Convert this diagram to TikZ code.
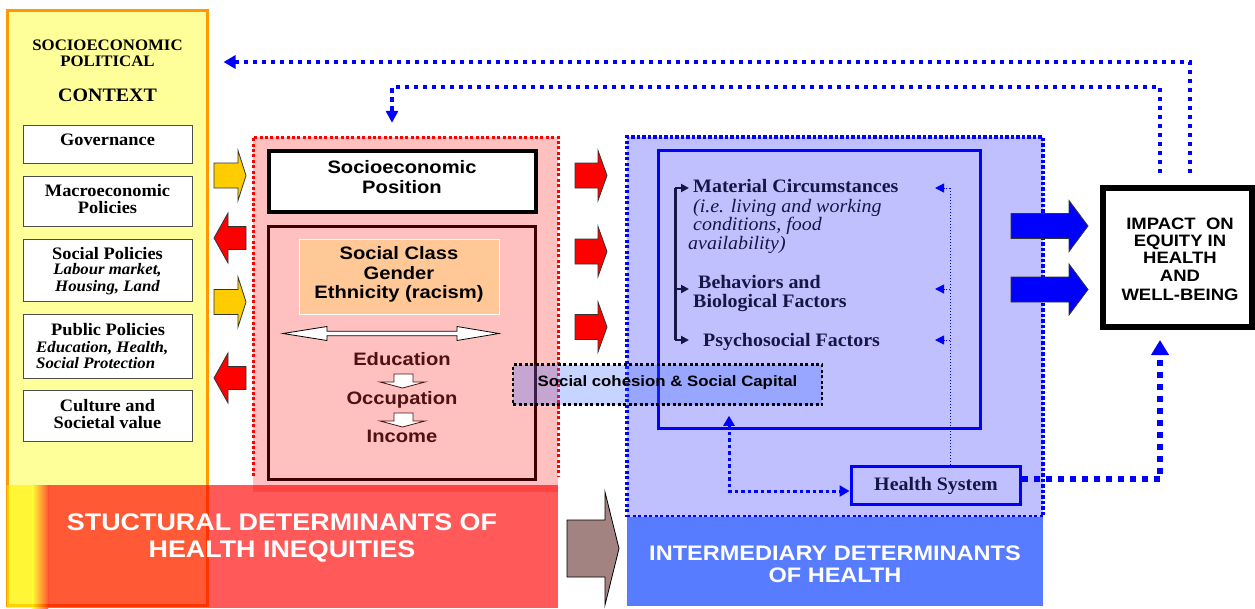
\documentclass[tikz,border=0pt]{standalone}
\usepackage{fontspec}
\setmainfont{Liberation Serif}[FakeStretch=1.05]
\newfontfamily\sansf{Liberation Sans}[FakeStretch=1.12]
\usetikzlibrary{arrows.meta,calc}
\definecolor{cYellow}{HTML}{FFFF99}
\definecolor{cOrange}{HTML}{FF9900}
\definecolor{cPink}{HTML}{FFC0C0}
\definecolor{cBlue}{HTML}{C0C0FF}
\definecolor{cClass}{HTML}{FFC896}
\definecolor{cMaroonLine}{HTML}{3D0000}
\definecolor{cMaroonText}{HTML}{4D1212}
\definecolor{cNavy}{HTML}{161645}
\definecolor{cBanner}{HTML}{587CFF}
\definecolor{cBrown}{HTML}{A38282}
\definecolor{cArrowYellow}{HTML}{FFCC00}
\definecolor{cCoh}{HTML}{3366FF}
\newcommand\myfs[2]{\fontsize{#1}{#2}\selectfont}
\newcommand\blockarrow[7]{\filldraw[#1] (#2,#5-#6) -- (#3,#5-#6) -- (#3,#5-#7) -- (#4,#5) -- (#3,#5+#7) -- (#3,#5+#6) -- (#2,#5+#6) -- cycle;}
\begin{document}
\begin{tikzpicture}[x=1pt,y=-1pt,
  txt/.style={inner sep=0pt, anchor=base},
  ltxt/.style={inner sep=0pt, anchor=base west},
  ctxbox/.style={draw=black!70, line width=1pt, fill=white, minimum width=169pt, inner sep=0pt},
  reddots/.style={draw=red, line width=3pt, dash pattern=on 3pt off 2.4pt},
  bluedots/.style={draw=blue, line width=3.2pt, dash pattern=on 3.2pt off 2.3pt},
  topdot/.style={draw=blue, line width=3.5pt, dash pattern=on 4.5pt off 4.5pt},
  hsdot/.style={draw=blue, line width=5.5pt, dash pattern=on 6pt off 6pt},
  yarrow/.style={fill=cArrowYellow, draw=black!80, line width=0.8pt},
  rarrow/.style={fill=red, draw=black!80, line width=0.8pt},
  barrow/.style={fill=blue, draw=black!80, line width=0.8pt},
  ctxfont/.style={font=\bfseries\myfs{17.5}{18}},
  ctxital/.style={font=\bfseries\itshape\myfs{16}{16}},
  bluefont/.style={font=\bfseries\myfs{19}{19}, text=cNavy},
  blueital/.style={font=\itshape\myfs{19}{19}, text=cNavy},
  pinkfont/.style={font=\sansf\bfseries\myfs{18}{20}},
  impfont/.style={font=\sansf\bfseries\myfs{16.5}{18}},
]
\useasboundingbox (0,0) rectangle (1255,608);

% ---------- regions ----------
\node[fill=cYellow, draw=cOrange, line width=3pt, minimum width=200pt, minimum height=595pt, inner sep=0pt] (ctx) at (107,307.5) {};
\node[fill=cPink, minimum width=305pt, minimum height=355pt, inner sep=0pt] (pinkreg) at (405.5,314.5) {};
\draw[reddots] (253,476) |- (558,137) -- (558,476);
\node[fill=cBlue, bluedots, minimum width=416pt, minimum height=380pt, inner sep=0pt] (bluereg) at (835,327) {};

% ---------- banners ----------
\fill[yellow, opacity=0.65] (7,485) rectangle (32,608);
\shade[left color=yellow, right color=red, opacity=0.65] (32,485) rectangle (48,608);
\fill[red, opacity=0.65] (48,485) rectangle (558,608);
\node[txt, font=\sansf\bfseries\myfs{24}{26}, text=white] (st1) at (282,530) {STUCTURAL DETERMINANTS OF};
\node[txt, font=\sansf\bfseries\myfs{24}{26}, text=white] (st2) at (282,557) {HEALTH INEQUITIES};
\node[fill=cBanner, minimum width=416pt, minimum height=89pt, inner sep=0pt] (intban) at (835,561.5) {};
\node[txt, font=\sansf\bfseries\myfs{21}{23}, text=white] (ib1) at (835,560) {INTERMEDIARY DETERMINANTS};
\node[txt, font=\sansf\bfseries\myfs{21}{23}, text=white] (ib2) at (835,582.5) {OF HEALTH};
\blockarrow{fill=cBrown, draw=black, line width=0.8pt}{567}{605}{619}{548.5}{28.5}{56.5}

% ---------- context column ----------
\node[txt, font=\bfseries\myfs{16}{16}] (ct1) at (107.5,50) {SOCIOECONOMIC};
\node[txt, font=\bfseries\myfs{16}{16}] (ct2) at (107.5,66) {POLITICAL};
\node[txt, font=\bfseries\myfs{19}{20}] (ct3) at (107.5,101) {CONTEXT};
\node[ctxbox, minimum height=38pt] (gov) at (107.5,144) {};
\node[ctxbox, minimum height=50pt] (macro) at (107.5,201) {};
\node[ctxbox, minimum height=62pt] (socpol) at (107.5,270) {};
\node[ctxbox, minimum height=64pt] (pubpol) at (107.5,346) {};
\node[ctxbox, minimum height=51pt] (cult) at (107.5,415.5) {};
\node[txt, ctxfont] (govt) at (107.5,145.5) {Governance};
\node[txt, ctxfont] (mac1) at (107.5,196) {Macroeconomic};
\node[txt, ctxfont] (mac2) at (107.5,213) {Policies};
\node[txt, ctxfont] (sp1) at (107.5,259) {Social Policies};
\node[txt, ctxital] (sp2) at (107.5,274.5) {Labour market,};
\node[txt, ctxital] (sp3) at (107.5,291) {Housing, Land};
\node[txt, ctxfont] (pp1) at (108,335.5) {Public Policies};
\node[ltxt, ctxital] (pp2) at (36,352.5) {Education, Health,};
\node[ltxt, ctxital] (pp3) at (36,368.5) {Social Protection};
\node[txt, ctxfont] (cu1) at (107.5,411) {Culture and};
\node[txt, ctxfont] (cu2) at (107.5,428.5) {Societal value};

% arrows between context and structural
\blockarrow{yarrow}{214}{238}{246}{175.5}{12.5}{25}
\blockarrow{rarrow}{246}{228}{214}{238}{11.5}{25}
\blockarrow{yarrow}{214}{238}{246}{302}{12.5}{25}
\blockarrow{rarrow}{246}{228}{214}{378}{11.5}{25}

% ---------- structural (pink) ----------
\node[draw=black, line width=4pt, fill=white, minimum width=267pt, minimum height=61pt, inner sep=0pt] (sep) at (402.5,181.5) {};
\node[txt, pinkfont] (sep1) at (402,173.5) {Socioeconomic};
\node[txt, pinkfont] (sep2) at (402,193.5) {Position};
\node[draw=cMaroonLine, line width=3pt, minimum width=267pt, minimum height=253pt, inner sep=0pt] (strat) at (402,353) {};
\node[fill=cClass, draw=white, line width=1pt, minimum width=200pt, minimum height=75pt, inner sep=0pt] (cls) at (399,276.5) {};
\node[txt, pinkfont] (cl1) at (399,259.5) {Social Class};
\node[txt, pinkfont] (cl2) at (399,279.5) {Gender};
\node[txt, pinkfont] (cl3) at (399,298.5) {Ethnicity (racism)};
\filldraw[fill=white, draw=black, line width=0.8pt] (283,333.5) -- (327,326.5) -- (327,331.2) -- (457,331.2) -- (457,326.5) -- (499,333.5) -- (457,340.5) -- (457,335.8) -- (327,335.8) -- (327,340.5) -- cycle;
\node[txt, pinkfont, text=cMaroonText] (ed) at (402,365) {Education};
\node[txt, pinkfont, text=cMaroonText] (oc) at (402,404) {Occupation};
\node[txt, pinkfont, text=cMaroonText] (in) at (402,442.5) {Income};
\filldraw[fill=white, draw=cMaroonText, line width=0.8pt] (394,374) -- (413,374) -- (413,382) -- (425,382) -- (402.5,388) -- (380,382) -- (394,382) -- cycle;
\filldraw[fill=white, draw=cMaroonText, line width=0.8pt] (394,413) -- (413,413) -- (413,421) -- (425,421) -- (402.5,427) -- (380,421) -- (394,421) -- cycle;

% arrows structural -> intermediary
\blockarrow{rarrow}{575}{598}{607}{175.5}{12.5}{25}
\blockarrow{rarrow}{575}{598}{607}{251.5}{12.5}{25}
\blockarrow{rarrow}{575}{598}{607}{327}{12.5}{25}

% ---------- intermediary (blue) ----------
\node[draw=blue, line width=3pt, minimum width=322pt, minimum height=278pt, inner sep=0pt] (inner) at (819,289) {};
\node[ltxt, bluefont] (mat) at (693,192) {Material Circumstances};
\node[ltxt, blueital] (mi1) at (693,212) {(i.e. living and working};
\node[ltxt, blueital] (mi2) at (693,230.5) {conditions, food};
\node[ltxt, blueital] (mi3) at (688,249.5) {availability)};
\node[ltxt, bluefont] (beh1) at (698,288) {Behaviors and};
\node[ltxt, bluefont] (beh2) at (693,307) {Biological Factors};
\node[ltxt, bluefont] (psy) at (703,346) {Psychosocial Factors};
\coordinate (brt) at (675,188);
\coordinate (brm) at (675,289);
\coordinate (brb) at (675,340);
\draw[cNavy, line width=3pt] (brt) -- (brb);
\draw[cNavy, line width=2pt, -{Triangle[length=8pt,width=8pt]}, shorten >=4pt] (brt) -- (mat.west |- brt);
\draw[cNavy, line width=2pt, -{Triangle[length=8pt,width=8pt]}, shorten >=4pt] (brm) -- (mat.west |- brm);
\draw[cNavy, line width=2pt, -{Triangle[length=8pt,width=8pt]}, shorten >=4pt] (brb) -- (mat.west |- brb);

\node[draw=blue, line width=3pt, fill=cBlue, minimum width=169pt, minimum height=38pt, inner sep=0pt] (hs) at (935.5,485) {};
\node[txt, bluefont] (hst) at (936,490.5) {Health System};
\coordinate (vt) at (950,188);
\coordinate (vm) at (950,289);
\coordinate (vb) at (950,340);
\coordinate (at1) at (935,188);
\coordinate (at2) at (935,289);
\coordinate (at3) at (935,340);
\draw[blue, line width=1pt, dotted] (hs.north -| vt) -- (vt);
\draw[blue, line width=1pt, dotted, -{Triangle[length=9pt,width=9pt]}] (vt) -- (at1);
\draw[blue, line width=1pt, dotted, -{Triangle[length=9pt,width=9pt]}] (vm) -- (at2);
\draw[blue, line width=1pt, dotted, -{Triangle[length=9pt,width=9pt]}] (vb) -- (at3);

% ---------- impact ----------
\node[draw=black, line width=6pt, fill=white, minimum width=149pt, minimum height=139pt, inner sep=0pt] (impact) at (1177.5,257.5) {};
\node[txt, impfont] (im1) at (1180,229) {IMPACT\ \ ON};
\node[txt, impfont] (im2) at (1180,246) {EQUITY IN};
\node[txt, impfont] (im3) at (1180,263.5) {HEALTH};
\node[txt, impfont] (im4) at (1180,281) {AND};
\node[txt, impfont] (im5) at (1180,300) {WELL-BEING};
\blockarrow{barrow}{1011}{1069}{1088}{226}{12.5}{25.5}
\blockarrow{barrow}{1011}{1069}{1088}{289.5}{12.5}{25.5}

% ---------- social cohesion ----------
\node[fill=cCoh, fill opacity=0.28, draw=black, line width=2.5pt, dash pattern=on 3pt off 2.5pt, minimum width=309pt, minimum height=40pt, inner sep=0pt] (sc) at (667.5,384.5) {};
\node[txt, font=\sansf\bfseries\myfs{15}{16}] (sct) at (667.5,386) {Social cohesion \& Social Capital};

% ---------- dotted connectors ----------
\coordinate (xo) at (1190,62);
\coordinate (xi) at (1160,87);
\coordinate (xp) at (392,87);
\coordinate (hx) at (729,0);
\draw[blue, line width=3pt, dash pattern=on 3.5pt off 3pt, {Triangle[length=10pt,width=11pt]}-{Triangle[length=10pt,width=11pt]}, shorten <=10pt] (sc.south -| hx) |- ([yshift=-6pt]hs.west);
\draw[hsdot, -{Triangle[length=15pt,width=17pt]}, shorten >=10pt] ([yshift=6pt]hs.east) -| (impact.south -| xi);
\draw[topdot, -{Triangle[length=12pt,width=13pt]}, shorten <=12pt, shorten >=15pt] (impact.north -| xo) -- (xo) -- (ctx.east |- xo);
\draw[topdot, -{Triangle[length=12pt,width=12pt]}, shorten <=12pt, shorten >=14pt] (impact.north -| xi) -- (xi) -- (xp) -- (pinkreg.north -| xp);
\end{tikzpicture}
\end{document}
